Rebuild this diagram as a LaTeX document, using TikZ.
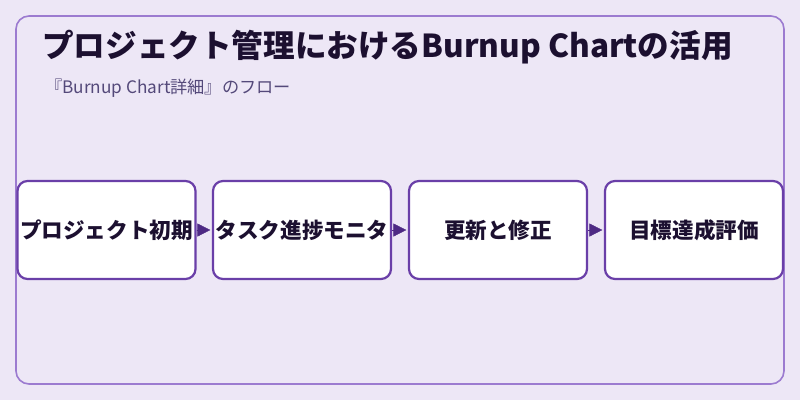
\documentclass[tikz,border=0pt]{standalone}
\usepackage{fontspec}
\setmainfont{Noto Sans CJK JP}
\newfontfamily\jp{Noto Sans CJK JP}
\usetikzlibrary{arrows.meta}
\definecolor{bg}{HTML}{EDE7F6}
\definecolor{frame}{HTML}{9C7BD0}
\definecolor{boxline}{HTML}{6A3FA8}
\definecolor{arrowc}{HTML}{4E2A84}
\definecolor{titlec}{HTML}{1C1030}
\definecolor{subc}{HTML}{54497A}
\begin{document}
\begin{tikzpicture}[x=1pt,y=-1pt,
  stepbox/.style={draw=boxline,line width=2.2pt,fill=white,rounded corners=10pt,
    minimum width=178pt,minimum height=98pt,inner sep=0pt,
    font=\jp\fontsize{21.6}{25}\selectfont\bfseries,text=titlec},
  flow/.style={draw=arrowc,line width=0.4pt,-{Triangle[length=13pt,width=13pt]},fill=arrowc,shorten >=1.5pt}]
\useasboundingbox (0,0) rectangle (800,400);
\fill[bg] (0,0) rectangle (800,400);
\draw[frame,line width=1.6pt,rounded corners=13pt] (16,16) rectangle (784,384);
\node[anchor=west,font=\jp\fontsize{31.6}{36}\selectfont\bfseries,text=titlec,inner sep=0pt] (title) at (42,47) {プロジェクト管理におけるBurnup Chartの活用};
\node[anchor=west,font=\jp\fontsize{17.2}{21}\selectfont,text=subc,inner sep=0pt] (sub) at (45,88) {『Burnup Chart詳細』のフロー};
\node[stepbox] (a) at (106.5,230) {プロジェクト初期};
\node[stepbox] (b) at (302,230) {タスク進捗モニタ};
\node[stepbox] (c) at (498,230) {更新と修正};
\node[stepbox] (d) at (694,230) {目標達成評価};
\draw[flow] (a.east) -- (b.west);
\draw[flow] (b.east) -- (c.west);
\draw[flow] (c.east) -- (d.west);
\end{tikzpicture}
\end{document}
